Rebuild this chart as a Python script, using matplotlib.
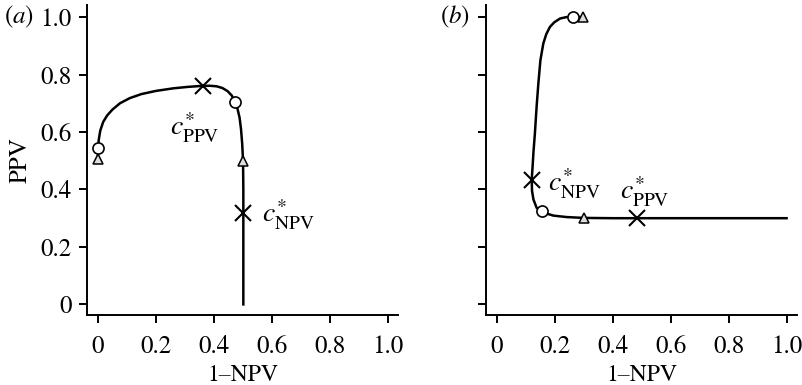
import matplotlib
matplotlib.use("Agg")
import matplotlib.pyplot as plt

plt.rcParams['font.family'] = ['STIXGeneral', 'DejaVu Serif']
plt.rcParams['mathtext.fontset'] = 'stix'

# Panel (a) curve: 1-NPV (x) vs PPV (y)
a_x = [0.0, 0.0, 0.003, 0.008, 0.018, 0.032, 0.05, 0.076, 0.11, 0.15, 0.2, 0.26, 0.31, 0.352, 0.385,
       0.41, 0.43, 0.448, 0.462, 0.473, 0.482, 0.489, 0.494, 0.498, 0.5, 0.501, 0.502, 0.502, 0.502, 0.502]
a_y = [0.50, 0.545, 0.575, 0.605, 0.635, 0.658, 0.678, 0.70, 0.718, 0.732, 0.743, 0.752, 0.757, 0.760, 0.761,
       0.759, 0.753, 0.742, 0.727, 0.705, 0.68, 0.65, 0.61, 0.56, 0.52, 0.50, 0.40, 0.318, 0.15, 0.0]
a_circ_x = [0.0, 0.473]
a_circ_y = [0.545, 0.705]
a_tri_x = [0.0, 0.502]
a_tri_y = [0.505, 0.50]
a_cross_x = [0.362, 0.502]
a_cross_y = [0.760, 0.318]

# Panel (b) curve
b_x = [0.298, 0.264, 0.24, 0.218, 0.198, 0.183, 0.170, 0.160, 0.150, 0.143, 0.137, 0.131, 0.126, 0.123,
       0.120, 0.121, 0.126, 0.137, 0.155, 0.175, 0.195, 0.24, 0.299, 0.4, 0.483, 0.6, 0.8, 1.0]
b_y = [1.0, 1.0, 1.0, 0.995, 0.982, 0.966, 0.94, 0.908, 0.85, 0.77, 0.69, 0.596, 0.53, 0.48,
       0.434, 0.395, 0.365, 0.336, 0.324, 0.315, 0.309, 0.304, 0.301, 0.300, 0.300, 0.300, 0.300, 0.300]
b_circ_x = [0.264, 0.155]
b_circ_y = [1.0, 0.324]
b_tri_x = [0.298, 0.299]
b_tri_y = [1.0, 0.30]
b_cross_x = [0.120, 0.483]
b_cross_y = [0.434, 0.300]

ticks = [0, 0.2, 0.4, 0.6, 0.8, 1.0]
tick_labels = ['0', '0.2', '0.4', '0.6', '0.8', '1.0']

fig = plt.figure(figsize=(8.03, 3.85), dpi=100)
axa = fig.add_axes([0.1083, 0.181, 0.3873, 0.806])
axb = fig.add_axes([0.6052, 0.181, 0.3873, 0.806])

def style(ax, ylabels=True):
    ax.set_xlim(-0.038, 1.036)
    ax.set_ylim(-0.038, 1.042)
    for s in ['top', 'right']:
        ax.spines[s].set_visible(False)
    for s in ['left', 'bottom']:
        ax.spines[s].set_linewidth(1.4)
    ax.set_xticks(ticks)
    ax.set_xticklabels(tick_labels)
    ax.set_yticks(ticks)
    if ylabels:
        ax.set_yticklabels(tick_labels)
    else:
        ax.set_yticklabels([])
    ax.tick_params(direction='out', length=6, width=1.4, labelsize=18)
    ax.tick_params(axis='x', pad=8)
    ax.tick_params(axis='y', pad=5)
    ax.set_xlabel('1\u2013NPV', fontsize=17, labelpad=4)

def draw(ax, x, y, cx, cy, tx, ty, kx, ky):
    ax.plot(x, y, color='black', lw=1.8, zorder=2)
    ax.plot(cx, cy, 'o', ms=8, mfc='white', mec='black', mew=1.2, ls='none', zorder=3)
    ax.plot(tx, ty, '^', ms=7, mfc='#dddddd', mec='black', mew=1.1, ls='none', zorder=3)
    ax.plot(kx, ky, 'x', ms=11, mec='black', mew=1.5, ls='none', zorder=4)

style(axa, True)
style(axb, False)
axa.set_ylabel('PPV', fontsize=18, labelpad=6)

draw(axa, a_x, a_y, a_circ_x, a_circ_y, a_tri_x, a_tri_y, a_cross_x, a_cross_y)
draw(axb, b_x, b_y, b_circ_x, b_circ_y, b_tri_x, b_tri_y, b_cross_x, b_cross_y)

lab_ppv = r'$c^{*}_{\mathrm{PPV}}$'
lab_npv = r'$c^{*}_{\mathrm{NPV}}$'
axa.text(0.25, 0.615, lab_ppv, fontsize=20, va='center', ha='left')
axa.text(0.565, 0.31, lab_npv, fontsize=20, va='center', ha='left')
axb.text(0.175, 0.42, lab_npv, fontsize=20, va='center', ha='left')
axb.text(0.425, 0.39, lab_ppv, fontsize=20, va='center', ha='left')

fig.text(0.005, 0.955, r'$(a)$', fontsize=18, va='center', ha='left')
fig.text(0.548, 0.955, r'$(b)$', fontsize=18, va='center', ha='left')

fig.savefig('out.png', dpi=100)
